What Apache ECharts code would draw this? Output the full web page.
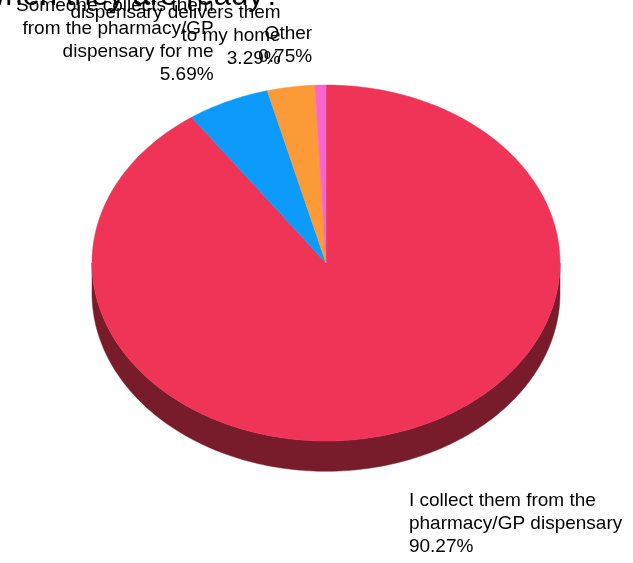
<!DOCTYPE html>
<html>
<head>
<meta charset="utf-8">
<script src="https://cdn.jsdelivr.net/npm/echarts@6/dist/echarts.min.js"></script>
<style>
  html, body { margin: 0; padding: 0; background: #ffffff; }
  #chart { width: 633px; height: 563px; }
</style>
</head>
<body>
<div id="chart"></div>
<script>
// Answer categories (label text, wrapped) and their shares in percent
const categories = [
  'I collect them from the\npharmacy/GP dispensary',
  'Someone collects them\nfrom the pharmacy/GP\ndispensary for me',
  'The pharmacy/GP\ndispensary delivers them\nto my home',
  'Other'
];
const shares = [90.27, 5.69, 3.29, 0.75];
const sliceColors = ['#EF3458', '#0C9BFA', '#FB9A36', '#F765CF'];
const sideColors = ['#781C2C', '#064D7D', '#7D4D1B', '#7B3267'];
const titleText = 'How do you get your prescriptions when they are ready?';

const chart = echarts.init(document.getElementById('chart'), null, { renderer: 'canvas' });

const total = shares.reduce((a, b) => a + b, 0);
const DEPTH = 0.17;          // thickness of the pie, in y-axis units
const LABEL_FONT = '19px "Liberation Sans", Arial, sans-serif';

function rimPoint(api, deg, dy) {
  const t = deg * Math.PI / 180;
  return api.coord([Math.sin(t), Math.cos(t) - (dy || 0)]);
}

function renderSlice(params, api) {
  const i = params.dataIndex;
  let before = 0;
  for (let k = 0; k < i; k++) before += shares[k];
  const a0 = before / total * 360;
  const a1 = (before + api.value(1)) / total * 360;
  const center = api.coord([0, 0]);
  const children = [];

  // front wall: only the part of the rim that faces the viewer (90..270 deg)
  const s0 = Math.max(a0, 90), s1 = Math.min(a1, 270);
  if (s1 > s0) {
    const top = [], bottom = [];
    for (let d = s0; d <= s1; d += 1) {
      top.push(rimPoint(api, d));
      bottom.push(rimPoint(api, d, DEPTH));
    }
    top.push(rimPoint(api, s1));
    bottom.push(rimPoint(api, s1, DEPTH));
    children.push({
      type: 'polygon',
      shape: { points: top.concat(bottom.reverse()) },
      style: { fill: sideColors[i], stroke: sideColors[i], lineWidth: 0.5 }
    });
  }

  // top face
  const pts = [center];
  for (let d = a0; d < a1; d += 1) pts.push(rimPoint(api, d));
  pts.push(rimPoint(api, a1));
  children.push({
    type: 'polygon',
    shape: { points: pts },
    style: { fill: sliceColors[i], stroke: sliceColors[i], lineWidth: 0.5 }
  });

  // label, placed just outside the rim at the slice's middle angle
  const mid = (a0 + a1) / 2;
  const t = mid * Math.PI / 180;
  const rim = rimPoint(api, mid);
  const ax = rim[0] + 15 * Math.sin(t);
  const ay = rim[1] - 15 * Math.cos(t);
  const depthPx = api.coord([0, 0])[1] - api.coord([0, DEPTH])[1];
  const text = categories[i] + '\n' + api.value(1).toFixed(2) + '%';
  const upper = Math.cos(t) > 0;
  const leftSide = Math.sin(t) < 0;
  children.push({
    type: 'text',
    x: leftSide ? ax - 8 : ax + 8,
    y: upper ? ay - 2 : ay + depthPx + 12,
    style: {
      text: text,
      font: LABEL_FONT,
      lineHeight: 23,
      fill: '#000000',
      align: leftSide ? 'right' : 'left',
      verticalAlign: upper ? 'bottom' : 'top'
    },
    z2: 10
  });

  return { type: 'group', children: children };
}

chart.setOption({
  backgroundColor: '#ffffff',
  animation: false,
  grid: { left: 92, top: 85, width: 468, height: 356 },
  xAxis: { type: 'value', min: -1, max: 1, show: false },
  yAxis: { type: 'value', min: -1, max: 1, show: false },
  graphic: [{
    type: 'text',
    x: 281,
    y: 12,
    style: {
      text: titleText,
      font: '31px "Liberation Sans", Arial, sans-serif',
      fill: '#000000',
      align: 'right',
      verticalAlign: 'bottom'
    },
    z: 20
  }],
  series: [{
    type: 'custom',
    clip: false,
    renderItem: renderSlice,
    data: shares.map((v, i) => ({ value: [i, v], name: categories[i] }))
  }]
});
</script>
</body>
</html>
